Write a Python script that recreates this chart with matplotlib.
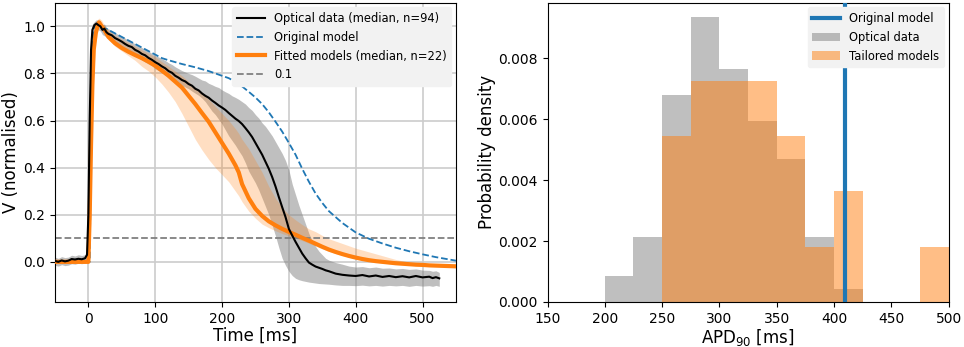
import numpy as np
import matplotlib
matplotlib.use("Agg")
import matplotlib.pyplot as plt

# ---- left panel: normalised action potentials ----
# optical data (median + spread)
t_opt = [-50, -45, -40, -35, -30, -25, -20, -15, -10, -5, -2, 0, 2, 4, 6, 9, 12, 15, 18, 21, 24, 27,
         30, 35, 40, 45, 50, 55, 60, 65, 70, 75, 80, 85, 90, 95, 100, 105, 110, 115, 120, 125,
         130, 135, 140, 145, 150, 155, 160, 165, 170, 175, 180, 185, 190, 195, 200, 205, 210,
         215, 220, 225, 230, 235, 240, 245, 250, 255, 260, 265, 270, 275, 280, 285, 290, 295,
         300, 305, 310, 315, 320, 325, 330, 335, 340, 345, 350, 355, 360, 370, 380, 390, 400,
         410, 420, 430, 440, 450, 460, 470, 480, 490, 500, 510, 515, 520, 525]
opt_med = [0.004, 0.0, 0.006, 0.002, 0.005, 0.012, 0.01, 0.013, 0.011, 0.015, 0.03, 0.2, 0.6, 0.9,
           0.985, 1.005, 1.012, 1.005, 1.0, 0.985, 0.99, 0.975, 0.968, 0.962, 0.95, 0.943, 0.935,
           0.925, 0.917, 0.912, 0.9, 0.893, 0.883, 0.877, 0.866, 0.858, 0.848, 0.84, 0.83, 0.822,
           0.81, 0.803, 0.79, 0.782, 0.772, 0.766, 0.755, 0.748, 0.735, 0.728, 0.715, 0.705, 0.697,
           0.685, 0.675, 0.664, 0.655, 0.645, 0.632, 0.62, 0.608, 0.598, 0.585, 0.568, 0.55, 0.53,
           0.505, 0.48, 0.455, 0.425, 0.395, 0.36, 0.32, 0.275, 0.232, 0.19, 0.14, 0.112, 0.085,
           0.06, 0.035, 0.015, -0.003, -0.012, -0.02, -0.025, -0.03, -0.036, -0.04, -0.05, -0.055,
           -0.058, -0.06, -0.056, -0.062, -0.058, -0.064, -0.06, -0.065, -0.061, -0.066, -0.06,
           -0.066, -0.063, -0.069, -0.065, -0.07]
opt_lo = [-0.015, -0.018, -0.012, -0.016, -0.014, -0.008, -0.01, -0.006, -0.008, -0.005, 0.0, 0.05,
          0.35, 0.75, 0.93, 0.98, 0.99, 0.985, 0.98, 0.965, 0.96, 0.955, 0.95, 0.94, 0.93, 0.922,
          0.912, 0.905, 0.895, 0.885, 0.875, 0.866, 0.857, 0.848, 0.84, 0.832, 0.82, 0.812, 0.803,
          0.795, 0.785, 0.776, 0.768, 0.758, 0.75, 0.742, 0.735, 0.725, 0.716, 0.707, 0.695, 0.68,
          0.66, 0.64, 0.625, 0.605, 0.585, 0.56, 0.535, 0.515, 0.495, 0.472, 0.45, 0.42, 0.385,
          0.36, 0.335, 0.305, 0.27, 0.235, 0.2, 0.155, 0.11, 0.06, 0.015, -0.015, -0.04, -0.058,
          -0.07, -0.076, -0.08, -0.083, -0.086, -0.088, -0.09, -0.092, -0.093, -0.094, -0.095,
          -0.098, -0.1, -0.1, -0.101, -0.099, -0.102, -0.1, -0.103, -0.1, -0.102, -0.1, -0.104,
          -0.1, -0.103, -0.101, -0.104, -0.1, -0.104]
opt_hi = [0.02, 0.015, 0.022, 0.018, 0.02, 0.028, 0.025, 0.03, 0.027, 0.03, 0.06, 0.4, 0.8, 0.97,
          1.01, 1.02, 1.028, 1.025, 1.02, 1.005, 1.01, 0.995, 0.99, 0.98, 0.972, 0.965, 0.958, 0.95,
          0.94, 0.935, 0.925, 0.918, 0.91, 0.902, 0.895, 0.885, 0.876, 0.87, 0.862, 0.855, 0.845,
          0.838, 0.828, 0.82, 0.812, 0.806, 0.8, 0.795, 0.788, 0.78, 0.772, 0.768, 0.758, 0.752,
          0.745, 0.74, 0.73, 0.722, 0.715, 0.705, 0.698, 0.69, 0.68, 0.67, 0.655, 0.643, 0.625,
          0.61, 0.59, 0.575, 0.555, 0.535, 0.51, 0.485, 0.46, 0.43, 0.39, 0.33, 0.285, 0.24, 0.2,
          0.16, 0.12, 0.09, 0.065, 0.045, 0.03, 0.015, 0.007, -0.003, -0.01, -0.018, -0.022, -0.02,
          -0.025, -0.022, -0.027, -0.026, -0.03, -0.028, -0.032, -0.03, -0.035, -0.036, -0.04,
          -0.038, -0.045]

# original model
t_orig = [-50, 0, 2, 4, 7, 10, 15, 20, 30, 40, 50, 60, 70, 80, 90, 100, 110, 120, 130, 140, 150,
          160, 170, 180, 190, 200, 210, 220, 230, 240, 250, 260, 270, 280, 290, 300, 310, 320,
          330, 340, 350, 360, 370, 380, 390, 400, 420, 440, 460, 480, 500, 520, 550]
orig_v = [0.0, 0.0, 0.0, 0.5, 0.95, 1.0, 1.005, 0.998, 0.985, 0.97, 0.955, 0.94, 0.925, 0.91,
          0.895, 0.88, 0.865, 0.856, 0.848, 0.84, 0.833, 0.826, 0.818, 0.81, 0.8, 0.79, 0.78,
          0.764, 0.745, 0.722, 0.698, 0.67, 0.635, 0.595, 0.553, 0.505, 0.455, 0.395, 0.34, 0.29,
          0.25, 0.215, 0.19, 0.165, 0.145, 0.125, 0.098, 0.078, 0.06, 0.045, 0.032, 0.02, 0.005]

# fitted models (median + range)
t_fit = [-50, -10, 0, 2, 4, 6, 8, 11, 14, 16, 20, 25, 30, 40, 50, 60, 70, 80, 90, 100, 110, 120,
         130, 140, 150, 160, 170, 180, 190, 200, 210, 220, 225, 230, 240, 250, 260, 270, 280, 290,
         300, 310, 320, 330, 340, 350, 360, 370, 380, 390, 400, 410, 420, 430, 440, 450, 460,
         470, 480, 490, 500, 510, 520, 530, 540, 550]
fit_med = [0.0, 0.0, 0.0, 0.2, 0.5, 0.75, 0.9, 0.97, 1.005, 1.017, 1.0, 0.98, 0.955, 0.928, 0.908,
           0.892, 0.878, 0.865, 0.85, 0.833, 0.812, 0.79, 0.765, 0.74, 0.705, 0.67, 0.632, 0.595,
           0.55, 0.505, 0.46, 0.41, 0.38, 0.33, 0.27, 0.225, 0.195, 0.172, 0.155, 0.14, 0.127,
           0.115, 0.102, 0.09, 0.077, 0.064, 0.052, 0.042, 0.033, 0.025, 0.018, 0.012, 0.007,
           0.003, 0.0, -0.003, -0.006, -0.008, -0.01, -0.012, -0.013, -0.015, -0.016, -0.017,
           -0.018, -0.019]
fit_lo = [-0.005, -0.005, -0.005, 0.1, 0.35, 0.6, 0.8, 0.93, 0.98, 1.0, 0.985, 0.965, 0.945, 0.915,
          0.895, 0.875, 0.855, 0.83, 0.81, 0.785, 0.755, 0.72, 0.68, 0.63, 0.575, 0.52, 0.475,
          0.435, 0.4, 0.37, 0.34, 0.3, 0.28, 0.255, 0.215, 0.185, 0.16, 0.145, 0.132, 0.12, 0.11,
          0.1, 0.09, 0.079, 0.067, 0.055, 0.044, 0.035, 0.027, 0.02, 0.013, 0.007, 0.002, -0.002,
          -0.005, -0.008, -0.01, -0.012, -0.014, -0.016, -0.017, -0.018, -0.019, -0.02, -0.021,
          -0.022]
fit_hi = [0.003, 0.003, 0.005, 0.35, 0.7, 0.88, 0.96, 1.01, 1.03, 1.035, 1.025, 1.0, 0.985, 0.96,
          0.945, 0.93, 0.915, 0.9, 0.885, 0.87, 0.85, 0.83, 0.81, 0.79, 0.765, 0.74, 0.715, 0.69,
          0.66, 0.63, 0.6, 0.565, 0.545, 0.52, 0.48, 0.43, 0.38, 0.32, 0.27, 0.23, 0.2, 0.178,
          0.158, 0.14, 0.128, 0.112, 0.098, 0.088, 0.078, 0.068, 0.058, 0.05, 0.042, 0.034, 0.026,
          0.018, 0.01, 0.004, -0.002, -0.006, -0.009, -0.011, -0.013, -0.015, -0.016, -0.017]

threshold = 0.1

# ---- right panel: APD90 histograms ----
bin_edges = [200, 225, 250, 275, 300, 325, 350, 375, 400, 425, 450, 475, 500]
optical_counts = [2, 5, 16, 22, 18, 14, 11, 5, 1, 0, 0, 0]     # n = 94
tailored_counts = [0, 0, 3, 4, 4, 4, 3, 1, 2, 0, 0, 1]         # n = 22
original_apd = 410

fig = plt.figure(figsize=(9.64, 3.47), dpi=100)
ax1 = fig.add_axes([0.057, 0.130, 0.416, 0.862])
ax2 = fig.add_axes([0.568, 0.130, 0.416, 0.862])

# left
ax1.fill_between(t_opt, opt_lo, opt_hi, color='gray', alpha=0.5, lw=0)
ax1.fill_between(t_fit, fit_lo, fit_hi, color='tab:orange', alpha=0.25, lw=0)
ax1.plot(t_orig, orig_v, '--', color='tab:blue', lw=1.3, label='Original model', zorder=3)
ax1.plot(t_fit, fit_med, color='tab:orange', lw=3, label='Fitted models (median, n=22)', zorder=4)
ax1.plot(t_opt, opt_med, color='black', lw=1.5, label='Optical data (median, n=94)', zorder=5)
ax1.axhline(threshold, color='gray', ls='--', lw=1.3, label='0.1', zorder=2)
ax1.set_xlim(-50, 550)
ax1.set_ylim(-0.17, 1.1)
ax1.set_xticks([0, 100, 200, 300, 400, 500])
ax1.set_yticks([0.0, 0.2, 0.4, 0.6, 0.8, 1.0])
ax1.grid(True, color='#cccccc', lw=1.2)
ax1.set_axisbelow(True)
ax1.set_xlabel('Time [ms]', fontsize=12, labelpad=1)
ax1.set_ylabel('V (normalised)', fontsize=12, labelpad=2)
ax1.tick_params(labelsize=10)
h, l = ax1.get_legend_handles_labels()
order = [2, 0, 1, 3]
leg = ax1.legend([h[i] for i in order], [l[i] for i in order], loc='upper right', fontsize=8.3,
                 facecolor='#f2f2f2', edgecolor='#f2f2f2', framealpha=1, fancybox=True,
                 borderaxespad=0.4, handlelength=2.4)

# right
ax2.axvline(original_apd, color='tab:blue', lw=3, label='Original model', zorder=5)
ax2.hist(bin_edges[:-1], bins=bin_edges, weights=optical_counts, density=True,
         color='gray', alpha=0.5, label='Optical data')
ax2.hist(bin_edges[:-1], bins=bin_edges, weights=tailored_counts, density=True,
         color='tab:orange', alpha=0.5, label='Tailored models')
ax2.set_xlim(150, 500)
ax2.set_xticks([150, 200, 250, 300, 350, 400, 450, 500])
ax2.set_yticks([0.0, 0.002, 0.004, 0.006, 0.008])
ax2.yaxis.set_major_formatter(matplotlib.ticker.FormatStrFormatter('%.3f'))
ax2.set_xlabel('APD$_{90}$ [ms]', fontsize=12, labelpad=1)
ax2.set_ylabel('Probability density', fontsize=12, labelpad=2)
ax2.tick_params(labelsize=10)
ax2.legend(loc='upper right', fontsize=8.3, facecolor='#f2f2f2', edgecolor='#f2f2f2',
           framealpha=1, borderaxespad=0.4, handlelength=2.4)

fig.savefig('out.png', dpi=100)
